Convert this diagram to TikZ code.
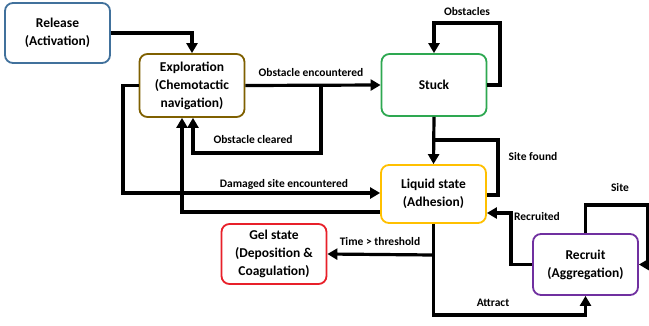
\documentclass[tikz,border=0pt]{standalone}
\usepackage{fontspec}
\setmainfont{Carlito}
\usetikzlibrary{arrows.meta,calc}
\definecolor{relc}{HTML}{41719C}
\definecolor{explc}{HTML}{7F6000}
\definecolor{stuckc}{HTML}{2EA851}
\definecolor{liqc}{HTML}{FFC000}
\definecolor{gelc}{HTML}{E8202A}
\definecolor{recc}{HTML}{7030A0}
\begin{document}
\begin{tikzpicture}[x=1pt,y=-1pt,
 box/.style={draw, line width=1.8pt, rounded corners=8pt, align=center,
   font=\bfseries\fontsize{13.5}{18}\selectfont, minimum width=105pt,
   minimum height=60pt, inner sep=0pt, fill=white},
 conn/.style={line width=3.2pt, -{Triangle[length=10pt,width=11pt]}},
 plain/.style={line width=3.2pt},
 lbl/.style={font=\bfseries\fontsize{11.5}{13}\selectfont}]
\useasboundingbox (0,0) rectangle (649,325);
\fill[white] (0,0) rectangle (649,325);

\node[box, draw=relc] (rel) at (57.5,33) {Release\\(Activation)};
\node[box, draw=explc, minimum height=63pt] (expl) at (192,85.5) {Exploration\\(Chemotactic\\navigation)};
\node[box, draw=stuckc, minimum height=62pt] (stuck) at (434,85) {Stuck};
\node[box, draw=liqc, minimum height=58pt] (liq) at (433.5,194) {Liquid state\\(Adhesion)};
\node[box, draw=gelc] (gel) at (274,254) {Gel state\\(Deposition \&\\Coagulation)};
\node[box, draw=recc, minimum height=61pt] (recr) at (585.5,264.5) {Recruit\\(Aggregation)};

\coordinate (oc) at (321,86);
\coordinate (ocx) at (193,153);
\coordinate (sf) at (434,140);
\coordinate (sfb) at (498,195);
\coordinate (ds) at (123,193);
\coordinate (le) at (182,212);
\coordinate (rc) at (511,213);
\coordinate (st) at (648,205);
\coordinate (lb) at (434,315);
\coordinate (tt) at (434,255);

\draw[conn] (rel.east) -| (expl.north);
\draw[conn] (expl.east) -- (stuck.west);
\draw[conn] (oc) |- (ocx) -- (ocx |- expl.south);
\draw[conn] (stuck.east) -- (500,85) -- (500,23) -| (stuck.north);
\draw[conn] (stuck.south) -- (liq.north);
\draw[plain] (sf) -| (sfb) -- (sfb -| liq.east);
\draw[conn] (expl.west) -| (ds) -- (ds -| liq.west);
\draw[conn] (le -| liq.west) -- (le) -- (le |- expl.south);
\draw[conn] (recr.west) -| (rc) -- (rc -| liq.east);
\draw[conn] (recr.north) |- (st) |- (recr.east);
\draw[conn] (liq.south) -- (liq.south |- lb) -| (recr.south);
\draw[conn] (liq.south |- tt) -- (gel.east);

\node[lbl] (l1) at (311,73) {Obstacle encountered};
\node[lbl] (l2) at (467,12) {Obstacles};
\node[lbl] (l3) at (253,140) {Obstacle cleared};
\node[lbl] (l4) at (533,157) {Site found};
\node[lbl] (l5) at (284,184) {Damaged site encountered};
\node[lbl] (l6) at (537,217) {Recruited};
\node[lbl] (l7) at (620,188) {Site};
\node[lbl] (l8) at (380,242) {Time > threshold};
\node[lbl] (l9) at (493,303) {Attract};
\end{tikzpicture}
\end{document}
